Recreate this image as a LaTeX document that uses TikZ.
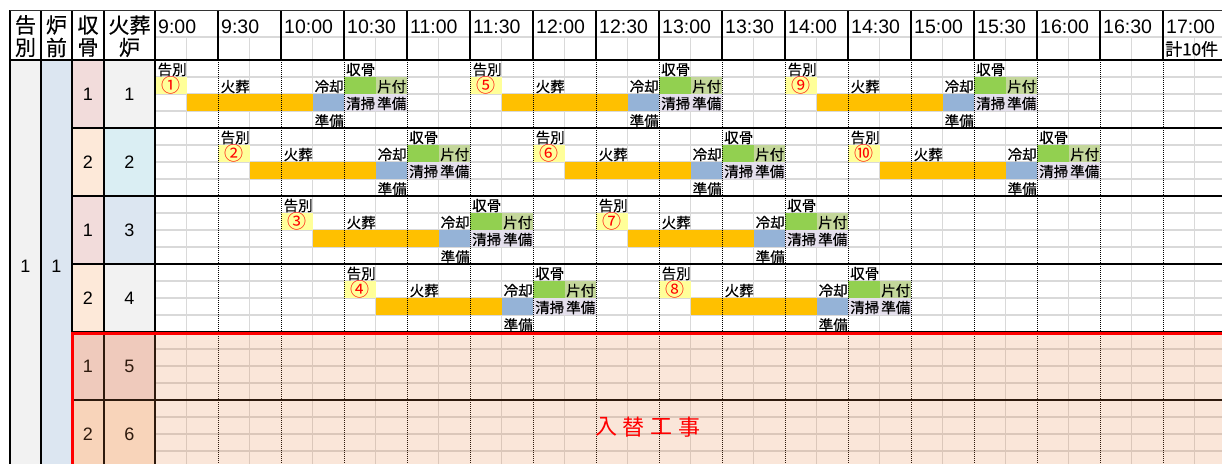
\documentclass[tikz,border=0pt]{standalone}
\usepackage{fontspec}
\setmainfont{Liberation Sans}
\newfontfamily\jp{Noto Sans CJK JP}
\newfontfamily\jpb{Noto Sans CJK JP}[FakeBold=0.4]
\definecolor{cyel}{HTML}{FFFF99}
\definecolor{corg}{HTML}{FFC000}
\definecolor{cblu}{HTML}{95B3D7}
\definecolor{cgrn}{HTML}{92D050}
\definecolor{clgr}{HTML}{C4D79B}
\definecolor{clav}{HTML}{E4DFEC}
\definecolor{cgry}{HTML}{F2F2F2}
\definecolor{cbl2}{HTML}{DCE6F1}
\definecolor{cpnk}{HTML}{F2DCDB}
\definecolor{cpch}{HTML}{FDE9D9}
\definecolor{ccyn}{HTML}{DAEEF3}
\definecolor{cgrid}{HTML}{D9D9D9}
\definecolor{covl}{RGB}{230,130,65}
\begin{document}
\begin{tikzpicture}[x=1pt,y=-1pt,
  gridline/.style={cgrid,line width=1.3pt},
  blk/.style={black,line width=1.4pt},
  dotline/.style={black,line width=0.9pt,dash pattern=on 1pt off 1pt},
  dtext/.style={font=\jpb\fontsize{14.5}{15}\selectfont,inner sep=0pt,anchor=west},
  ntext/.style={font=\jp\fontsize{19}{19}\selectfont,inner sep=0pt,text=red},
  tlab/.style={font=\fontsize{19.5}{20}\selectfont,inner sep=0pt,anchor=west},
  hdr/.style={font=\jpb\fontsize{21}{21}\selectfont,inner sep=0pt},
  lnum/.style={font=\fontsize{18}{18}\selectfont,inner sep=0pt}]
\useasboundingbox (0,0) rectangle (1222,463);
\clip (0,0) rectangle (1222,463);
\fill[white] (0,0) rectangle (1222,463);
% left column fills
\fill[cgry] (10,60) rectangle (41,470);
\fill[cbl2] (41,60) rectangle (72,470);
\foreach \r/\ca/\cb in {0/cpnk/cgry,1/cpch/ccyn,2/cpnk/cbl2,3/cpch/cgry,4/cpnk/cpnk,5/cpch/cpch}{
  \fill[\ca] (72,{60+68*\r}) rectangle (104,{128+68*\r});
  \fill[\cb] (104,{60+68*\r}) rectangle (155,{128+68*\r});
}
% gray grid
\draw[gridline] (155,37) -- (1230,37);
\foreach \k in {0,...,16} \draw[gridline] ({155+31.5*(2*\k+1)},37) -- ({155+31.5*(2*\k+1)},470);
\foreach \j in {1,2,3,5,6,7,9,10,11,13,14,15,17,18,19,21,22,23} \draw[gridline] (155,{60+17*\j}) -- (1230,{60+17*\j});
% schedule fills
\foreach \r/\T in {0/0,0/5,0/10,1/1,1/6,1/11,2/2,2/7,3/3,3/8}{
  \pgfmathsetmacro\sx{155+63*\T}
  \pgfmathsetmacro\ry{60+68*\r}
  \fill[cyel] (\sx,\ry+17) rectangle ++(31.5,17);
  \fill[corg] (\sx+31.5,\ry+34) rectangle ++(126,17);
  \fill[cblu] (\sx+157.5,\ry+34) rectangle ++(31.5,17);
  \fill[cgrn] (\sx+189,\ry+17) rectangle ++(31.5,17);
  \fill[clgr] (\sx+220.5,\ry+17) rectangle ++(31.5,17);
  \fill[clav] (\sx+189,\ry+34) rectangle ++(63,17);
}
% dotted half-hour lines
\foreach \i in {1,...,17} \draw[dotline] ({155+63*\i},60) -- ({155+63*\i},470);
% black lines
\foreach \i in {0,...,17} \draw[blk] ({155+63*\i},10) -- ({155+63*\i},60);
\foreach \x in {10,41,72,104,155} \draw[blk] (\x,10) -- (\x,470);
\draw[black!80,line width=1pt] (10,10) -- (1230,10);
\draw[blk,line width=1.8pt] (10,60) -- (1230,60);
\foreach \r in {1,...,5} \draw[blk] (72,{60+68*\r}) -- (1230,{60+68*\r});
% header texts
\node[hdr] (hk1) at (25.5,25) {告};
\node[hdr] (hk2) at (25.5,47.5) {別};
\node[hdr] (hr1) at (56.5,25) {炉};
\node[hdr] (hr2) at (56.5,47.5) {前};
\node[hdr] (hs1) at (88,25) {収};
\node[hdr] (hs2) at (88,47.5) {骨};
\node[hdr] (hf1) at (129.5,25) {火葬};
\node[hdr] (hf2) at (129.5,47.5) {炉};
\foreach \t [count=\i from 0] in {9:00,9:30,10:00,10:30,11:00,11:30,12:00,12:30,13:00,13:30,14:00,14:30,15:00,15:30,16:00,16:30,17:00}
  \node[tlab] (tm\i) at ({155+63*\i+3},26.5) {\t};
\node[tlab,font=\jpb\fontsize{17}{17}\selectfont] (total) at (1165,49) {計10件};
% left numbers
\node[lnum] (ka) at (25.5,266) {1};
\node[lnum] (ro) at (56.5,266) {1};
\foreach \r/\a/\b in {0/1/1,1/2/2,2/1/3,3/2/4,4/1/5,5/2/6}{
  \node[lnum] (sa\r) at (88,{94+68*\r}) {\a};
  \node[lnum] (fu\r) at (129.5,{94+68*\r}) {\b};
}
% schedule texts
\foreach \r/\T/\n in {0/0/①,0/5/⑤,0/10/⑨,1/1/②,1/6/⑥,1/11/⑩,2/2/③,2/7/⑦,3/3/④,3/8/⑧}{
  \pgfmathsetmacro\sx{155+63*\T}
  \pgfmathsetmacro\ry{60+68*\r}
  \node[dtext] (k\r-\T) at (\sx+2.5,\ry+9.5) {告別};
  \node[ntext] (n\r-\T) at (\sx+15.75,\ry+25.5) {\n};
  \node[dtext] (h\r-\T) at (\sx+65.5,\ry+26.5) {火葬};
  \node[dtext] (c\r-\T) at (\sx+159.5,\ry+26.5) {冷却};
  \node[dtext] (p\r-\T) at (\sx+159.5,\ry+61) {準備};
  \node[dtext] (s\r-\T) at (\sx+191,\ry+9.5) {収骨};
  \node[dtext] (f\r-\T) at (\sx+222,\ry+26.5) {片付};
  \node[dtext] (q\r-\T) at (\sx+191,\ry+43.5) {清掃};
  \node[dtext] (j\r-\T) at (\sx+222,\ry+43.5) {準備};
}
% construction overlay
\fill[covl,fill opacity=0.2] (72,333) rectangle (1230,470);
\draw[red,line width=3pt] (72,470) -- (72,333) -- (1230,333);
\foreach \c/\x [count=\m] in {入/606,替/633,工/661,事/689}
  \node[font=\jp\fontsize{22}{22}\selectfont,text=red,inner sep=0pt] (w\m) at (\x,427) {\c};
\end{tikzpicture}
\end{document}
